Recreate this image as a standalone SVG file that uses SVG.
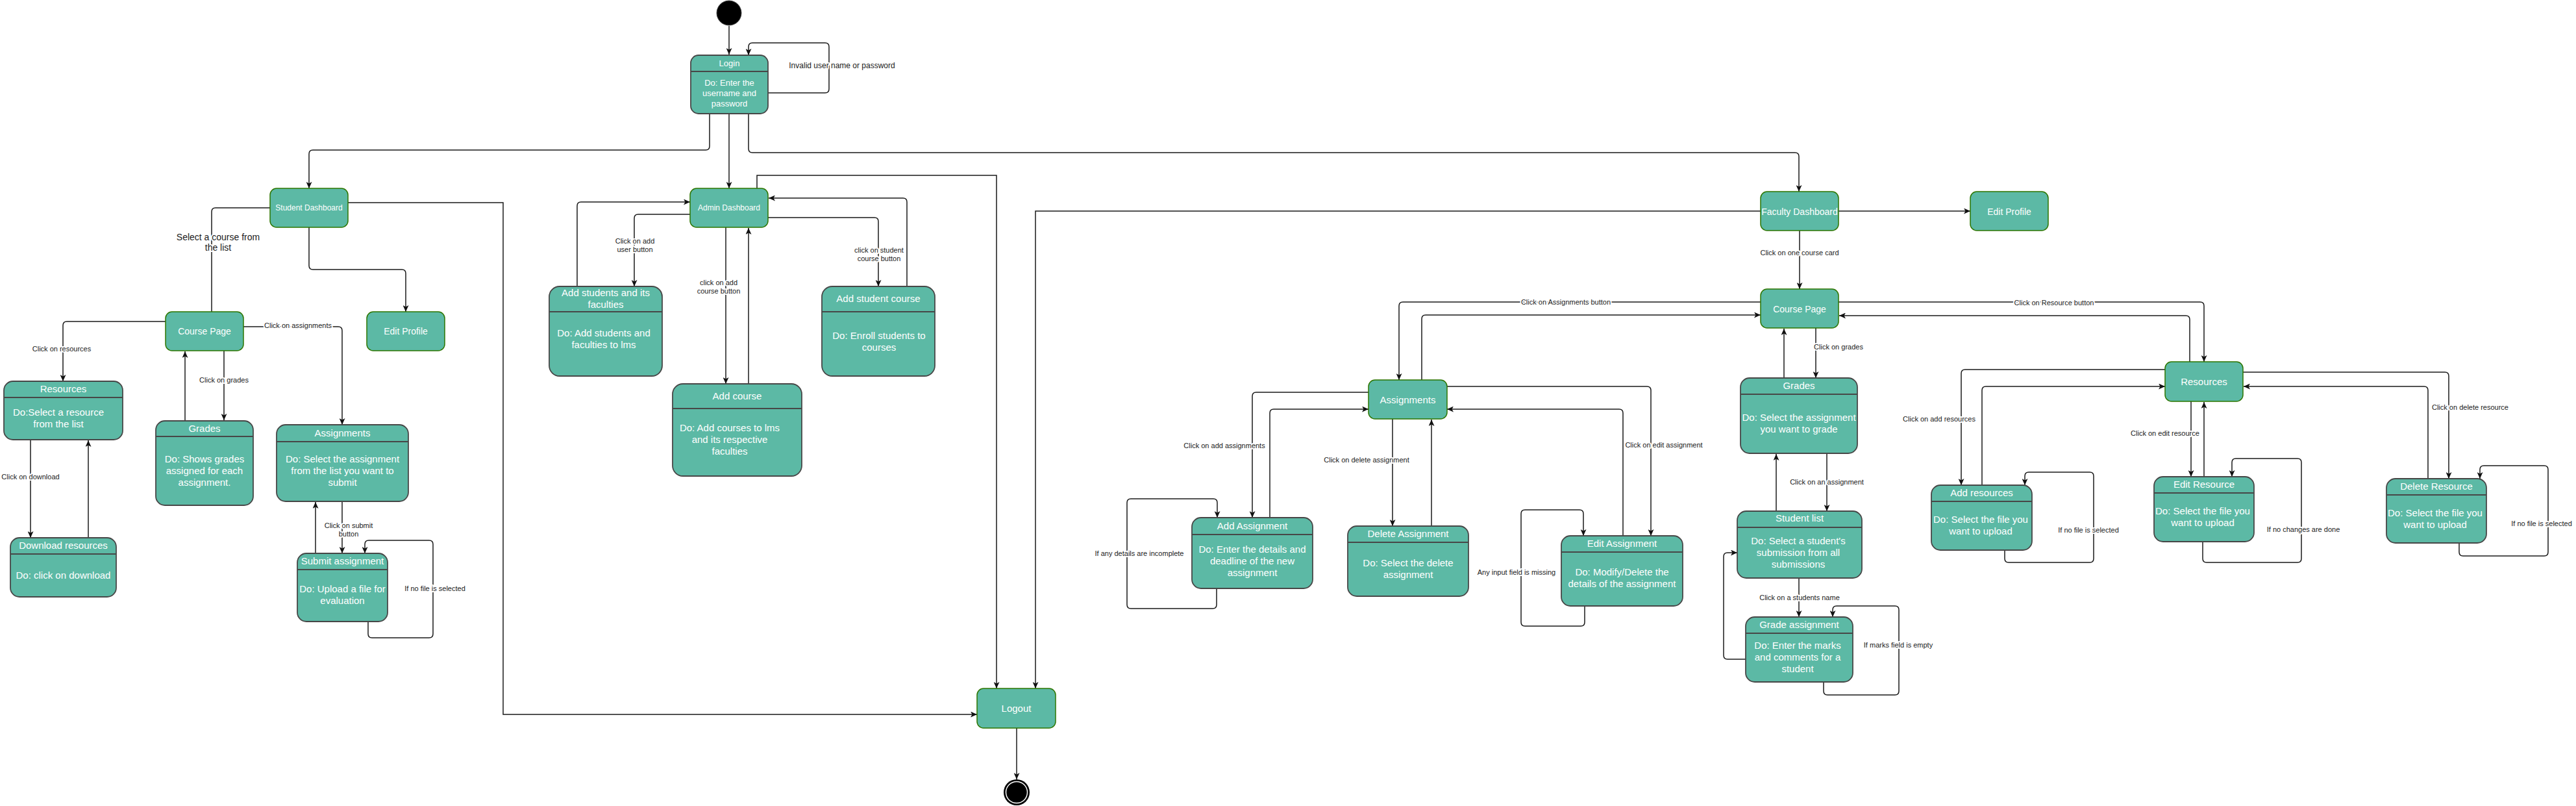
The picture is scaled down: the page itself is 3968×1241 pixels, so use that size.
<svg xmlns="http://www.w3.org/2000/svg" width="3968" height="1241" viewBox="0 0 3968 1241">
<defs>
<marker id="ar" markerUnits="userSpaceOnUse" markerWidth="11" markerHeight="9" refX="10" refY="4.5" orient="auto" viewBox="0 0 11 9">
<path d="M0,0 L10,4.5 L0,9 L2.5,4.5 Z" fill="#111"/>
</marker>
</defs>
<style>
.n{fill:#5CB9A5;stroke:#2D7600;stroke-width:1.5}
.c{fill:#5CB9A5;stroke:#474747;stroke-width:1.8}
.dv{stroke:#474747;stroke-width:1.8}
.t{font-family:"Liberation Sans",Arial,sans-serif;fill:#fff;text-anchor:middle;font-size:15px}
.e{fill:none;stroke:#1a1a1a;stroke-width:1.5}
.a{marker-end:url(#ar)}
.l{font-family:"Liberation Sans",Arial,sans-serif;font-size:11px;fill:#1a1a1a;text-anchor:middle;paint-order:stroke;stroke:#fff;stroke-width:4px;stroke-linejoin:round}
</style>
<rect width="3968" height="1241" fill="#fff"/>
<g id="connectors">
<path class="e a" d="M1123,40 V84"/>
<path class="e a" d="M1183,143 H1271 Q1277,143 1277,137 V72 Q1277,66 1271,66 H1159 Q1153,66 1153,72 V85"/>
<text class="l" x="1297" y="105" style="font-size:12px">Invalid user name or password</text>
<path class="e a" d="M1093,175 V225 Q1093,231 1087,231 H482 Q476,231 476,237 V290"/>
<path class="e a" d="M1123,175 V290"/>
<path class="e a" d="M1153,175 V229 Q1153,235 1159,235 H2765 Q2771,235 2771,241 V295"/>
<path class="e" d="M416,320 H332 Q326,320 326,326 V480"/>
<text class="l" x="336" y="370" style="font-size:14px">Select a course from<tspan x="336" y="386">the list</tspan></text>
<path class="e a" d="M476,350 V409 Q476,415 482,415 H619 Q625,415 625,421 V480"/>
<path class="e a" d="M536,312 H775 V1100 H1505"/>
<path class="e a" d="M255,495 H103 Q97,495 97,501 V587"/>
<text class="l" x="95" y="541">Click on resources</text>
<path class="e a" d="M375,503 H521 Q527,503 527,509 V654"/>
<text class="l" x="459" y="505">Click on assignments</text>
<path class="e a" d="M345,540 V647"/>
<text class="l" x="345" y="589">Click on grades</text>
<path class="e a" d="M285,648 V541"/>
<path class="e a" d="M47,677 V828"/>
<text class="l" x="47" y="738">Click on download</text>
<path class="e a" d="M136,828 V678"/>
<path class="e a" d="M527,772 V852"/>
<text class="l" x="537" y="813">Click on submit<tspan x="537" y="826">button</tspan></text>
<path class="e a" d="M486,852 V773"/>
<path class="e a" d="M567,957 V976 Q567,982 573,982 H661 Q667,982 667,976 V838 Q667,832 661,832 H568 Q562,832 562,838 V852"/>
<text class="l" x="670" y="910">If no file is selected</text>
<path class="e a" d="M1063,330 H983 Q977,330 977,336 V441"/>
<text class="l" x="978" y="375">Click on add<tspan x="978" y="388">user button</tspan></text>
<path class="e a" d="M889,441 V317 Q889,311 895,311 H1063"/>
<path class="e a" d="M1118,350 V591"/>
<text class="l" x="1107" y="439">click on add<tspan x="1107" y="452">course button</tspan></text>
<path class="e a" d="M1153,591 V351"/>
<path class="e a" d="M1183,335 H1347 Q1353,335 1353,341 V441"/>
<text class="l" x="1354" y="389">click on student<tspan x="1354" y="402">course button</tspan></text>
<path class="e a" d="M1397,441 V311 Q1397,305 1391,305 H1184"/>
<path class="e a" d="M1166,290 V270 H1535 V1060"/>
<path class="e a" d="M2712,325 H1595 V1060"/>
<path class="e a" d="M2832,325 H3035"/>
<path class="e a" d="M2772,355 V445"/>
<text class="l" x="2772" y="393">Click on one course card</text>
<path class="e a" d="M1566,1121 V1200"/>
<path class="e a" d="M2712,465 H2161 Q2155,465 2155,471 V585"/>
<text class="l" x="2412" y="469">Click on Assignments button</text>
<path class="e a" d="M2190,585 V491 Q2190,485 2196,485 H2712"/>
<path class="e a" d="M2832,465 H3389 Q3395,465 3395,471 V557"/>
<text class="l" x="3164" y="470">Click on Resource button</text>
<path class="e a" d="M3373,557 V492 Q3373,486 3367,486 H2833"/>
<path class="e a" d="M2797,505 V582"/>
<text class="l" x="2832" y="538">Click on grades</text>
<path class="e a" d="M2748,582 V506"/>
<path class="e a" d="M2814,698 V787"/>
<text class="l" x="2814" y="746">Click on an assignment</text>
<path class="e a" d="M2736,787 V699"/>
<path class="e a" d="M2771,890 V950"/>
<text class="l" x="2772" y="924">Click on a students name</text>
<path class="e a" d="M2689,1015 H2661 Q2655,1015 2655,1009 V857 Q2655,851 2661,851 H2676"/>
<path class="e a" d="M2809,1050 V1064 Q2809,1070 2815,1070 H2919 Q2925,1070 2925,1064 V939 Q2925,933 2919,933 H2829 Q2823,933 2823,939 V950"/>
<text class="l" x="2924" y="997">If marks field is empty</text>
<path class="e a" d="M2108,604 H1935 Q1929,604 1929,610 V797"/>
<text class="l" x="1886" y="690">Click on add assignments</text>
<path class="e a" d="M1956,797 V636 Q1956,630 1962,630 H2108"/>
<path class="e a" d="M2145,645 V810"/>
<text class="l" x="2105" y="712">Click on delete assignment</text>
<path class="e a" d="M2205,810 V646"/>
<path class="e a" d="M2229,595 H2537 Q2543,595 2543,601 V825"/>
<text class="l" x="2563" y="689">Click on edit assignment</text>
<path class="e a" d="M2500,825 V636 Q2500,630 2494,630 H2229"/>
<path class="e a" d="M1874,906 V931 Q1874,937 1868,937 H1742 Q1736,937 1736,931 V774 Q1736,768 1742,768 H1869 Q1875,768 1875,774 V797"/>
<text class="l" x="1755" y="856">If any details are incomplete</text>
<path class="e a" d="M2441,933 V958 Q2441,964 2435,964 H2349 Q2343,964 2343,958 V791 Q2343,785 2349,785 H2433 Q2439,785 2439,791 V825"/>
<text class="l" x="2336" y="885">Any input field is missing</text>
<path class="e a" d="M3335,569 H3027 Q3021,569 3021,575 V747"/>
<text class="l" x="2987" y="649">Click on add resources</text>
<path class="e a" d="M3053,747 V601 Q3053,595 3059,595 H3335"/>
<path class="e a" d="M3375,618 V734"/>
<text class="l" x="3335" y="671">Click on edit resource</text>
<path class="e a" d="M3395,734 V619"/>
<path class="e a" d="M3455,573 H3766 Q3772,573 3772,579 V737"/>
<text class="l" x="3805" y="631">Click on delete resource</text>
<path class="e a" d="M3740,737 V601 Q3740,595 3734,595 H3456"/>
<path class="e a" d="M3088,847 V860 Q3088,866 3094,866 H3219 Q3225,866 3225,860 V733 Q3225,727 3219,727 H3125 Q3119,727 3119,733 V747"/>
<text class="l" x="3217" y="820">If no file is selected</text>
<path class="e a" d="M3393,834 V860 Q3393,866 3399,866 H3539 Q3545,866 3545,860 V712 Q3545,706 3539,706 H3444 Q3438,706 3438,712 V734"/>
<text class="l" x="3548" y="819">If no changes are done</text>
<path class="e a" d="M3788,836 V850 Q3788,856 3794,856 H3919 Q3925,856 3925,850 V723 Q3925,717 3919,717 H3826 Q3820,717 3820,723 V737"/>
<text class="l" x="3915" y="810">If no file is selected</text>
</g>
<g id="nodes">
<g id="start"><circle cx="1123" cy="20" r="19" fill="#000" stroke="#444" stroke-width="1"/></g>
<g id="login"><rect class="c" x="1064" y="85" width="119" height="90" rx="12"/><line class="dv" x1="1064" y1="110" x2="1183" y2="110"/>
<text class="t" x="1123.5" y="102" style="font-size:13px">Login</text>
<text class="t" x="1123.5" y="131.5" style="font-size:13px">Do: Enter the<tspan x="1123.5" y="147.5">username and</tspan><tspan x="1123.5" y="163.5">password</tspan></text></g>
<g id="student-dashboard"><rect class="n" x="416" y="290" width="120" height="60" rx="10"/><text class="t" x="476" y="324" style="font-size:12px">Student Dashboard</text></g>
<g id="admin-dashboard"><rect class="n" x="1063" y="290" width="120" height="60" rx="10"/><text class="t" x="1123" y="324" style="font-size:12px">Admin Dashboard</text></g>
<g id="faculty-dashboard"><rect class="n" x="2712" y="295" width="120" height="60" rx="10"/><text class="t" x="2772" y="331" style="font-size:14px">Faculty Dashboard</text></g>
<g id="edit-profile-student"><rect class="n" x="565" y="480" width="120" height="60" rx="10"/><text class="t" x="625" y="515" style="font-size:14px">Edit Profile</text></g>
<g id="course-page-student"><rect class="n" x="255" y="480" width="120" height="60" rx="10"/><text class="t" x="315" y="515" style="font-size:14px">Course Page</text></g>
<g id="course-page-faculty"><rect class="n" x="2712" y="445" width="120" height="60" rx="10"/><text class="t" x="2772" y="481" style="font-size:14px">Course Page</text></g>
<g id="edit-profile-faculty"><rect class="n" x="3035" y="295" width="120" height="60" rx="10"/><text class="t" x="3095" y="331" style="font-size:14px">Edit Profile</text></g>
<g id="assignments-faculty"><rect class="n" x="2108" y="585" width="121" height="60" rx="10"/><text class="t" x="2168.5" y="620.5">Assignments</text></g>
<g id="resources-faculty"><rect class="n" x="3335" y="557" width="120" height="61" rx="10"/><text class="t" x="3395" y="593">Resources</text></g>
<g id="logout"><rect class="n" x="1505" y="1060" width="121" height="61" rx="10"/><text class="t" x="1565.5" y="1096">Logout</text></g>
<g id="end"><circle cx="1566" cy="1220" r="20" fill="#000"/><circle cx="1566" cy="1220" r="16.5" fill="#000" stroke="#fff" stroke-width="1.5"/></g>
<g id="resources-student"><rect class="c" x="6" y="587" width="183" height="90" rx="14"/><line class="dv" x1="6" y1="612" x2="189" y2="612"/>
<text class="t" x="97.5" y="604">Resources</text>
<text class="t" x="90" y="640">Do:Select a resource<tspan x="90" y="658">from the list</tspan></text></g>
<g id="download-resources"><rect class="c" x="16" y="828" width="163" height="91" rx="14"/><line class="dv" x1="16" y1="853" x2="179" y2="853"/>
<text class="t" x="97.5" y="845">Download resources</text>
<text class="t" x="97.5" y="891">Do: click on download</text></g>
<g id="grades-student"><rect class="c" x="240" y="648" width="150" height="130" rx="14"/><line class="dv" x1="240" y1="672" x2="390" y2="672"/>
<text class="t" x="315" y="665">Grades</text>
<text class="t" x="315" y="712">Do: Shows grades<tspan x="315" y="730">assigned for each</tspan><tspan x="315" y="748">assignment.</tspan></text></g>
<g id="assignments-student"><rect class="c" x="426" y="654" width="203" height="118" rx="14"/><line class="dv" x1="426" y1="680" x2="629" y2="680"/>
<text class="t" x="527.5" y="672">Assignments</text>
<text class="t" x="527.5" y="712">Do: Select the assignment<tspan x="527.5" y="730">from the list you want to</tspan><tspan x="527.5" y="748">submit</tspan></text></g>
<g id="submit-assignment"><rect class="c" x="458" y="852" width="139" height="105" rx="14"/><line class="dv" x1="458" y1="877" x2="597" y2="877"/>
<text class="t" x="527.5" y="869">Submit assignment</text>
<text class="t" x="527.5" y="912">Do: Upload a file for<tspan x="527.5" y="930">evaluation</tspan></text></g>
<g id="add-students"><rect class="c" x="846" y="441" width="174" height="138" rx="16"/><line class="dv" x1="846" y1="480" x2="1020" y2="480"/>
<text class="t" x="933" y="456">Add students and its<tspan x="933" y="474">faculties</tspan></text>
<text class="t" x="930" y="518">Do: Add students and<tspan x="930" y="536">faculties to lms</tspan></text></g>
<g id="add-course"><rect class="c" x="1036" y="591" width="199" height="142" rx="16"/><line class="dv" x1="1036" y1="629" x2="1235" y2="629"/>
<text class="t" x="1135.5" y="615">Add course</text>
<text class="t" x="1124" y="664">Do: Add courses to lms<tspan x="1124" y="682">and its respective</tspan><tspan x="1124" y="700">faculties</tspan></text></g>
<g id="add-student-course"><rect class="c" x="1266" y="441" width="174" height="138" rx="16"/><line class="dv" x1="1266" y1="480" x2="1440" y2="480"/>
<text class="t" x="1353" y="465">Add student course</text>
<text class="t" x="1354" y="522">Do: Enroll students to<tspan x="1354" y="540">courses</tspan></text></g>
<g id="grades-faculty"><rect class="c" x="2681" y="582" width="180" height="116" rx="14"/><line class="dv" x1="2681" y1="607" x2="2861" y2="607"/>
<text class="t" x="2771" y="599">Grades</text>
<text class="t" x="2771" y="648">Do: Select the assignment<tspan x="2771" y="666">you want to grade</tspan></text></g>
<g id="student-list"><rect class="c" x="2676" y="787" width="192" height="103" rx="14"/><line class="dv" x1="2676" y1="812" x2="2868" y2="812"/>
<text class="t" x="2772" y="803">Student list</text>
<text class="t" x="2770" y="838">Do: Select a student's<tspan x="2770" y="856">submission from all</tspan><tspan x="2770" y="874">submissions</tspan></text></g>
<g id="grade-assignment"><rect class="c" x="2689" y="950" width="165" height="100" rx="14"/><line class="dv" x1="2689" y1="975" x2="2854" y2="975"/>
<text class="t" x="2771.5" y="967">Grade assignment</text>
<text class="t" x="2769" y="999">Do: Enter the marks<tspan x="2769" y="1017">and comments for a</tspan><tspan x="2769" y="1035">student</tspan></text></g>
<g id="add-assignment"><rect class="c" x="1836" y="797" width="186" height="109" rx="14"/><line class="dv" x1="1836" y1="823" x2="2022" y2="823"/>
<text class="t" x="1929" y="815">Add Assignment</text>
<text class="t" x="1929" y="851">Do: Enter the details and<tspan x="1929" y="869">deadline of the new</tspan><tspan x="1929" y="887">assignment</tspan></text></g>
<g id="delete-assignment"><rect class="c" x="2076" y="810" width="186" height="108" rx="14"/><line class="dv" x1="2076" y1="835" x2="2262" y2="835"/>
<text class="t" x="2169" y="827">Delete Assignment</text>
<text class="t" x="2169" y="872">Do: Select the delete<tspan x="2169" y="890">assignment</tspan></text></g>
<g id="edit-assignment"><rect class="c" x="2405" y="825" width="187" height="108" rx="14"/><line class="dv" x1="2405" y1="850" x2="2592" y2="850"/>
<text class="t" x="2498.5" y="842">Edit Assignment</text>
<text class="t" x="2498.5" y="886">Do: Modify/Delete the<tspan x="2498.5" y="904">details of the assignment</tspan></text></g>
<g id="add-resources"><rect class="c" x="2975" y="747" width="155" height="100" rx="14"/><line class="dv" x1="2975" y1="772" x2="3130" y2="772"/>
<text class="t" x="3052.5" y="764">Add resources</text>
<text class="t" x="3051" y="805">Do: Select the file you<tspan x="3051" y="823">want to upload</tspan></text></g>
<g id="edit-resource"><rect class="c" x="3318" y="734" width="154" height="100" rx="14"/><line class="dv" x1="3318" y1="759" x2="3472" y2="759"/>
<text class="t" x="3395" y="751">Edit Resource</text>
<text class="t" x="3393" y="792">Do: Select the file you<tspan x="3393" y="810">want to upload</tspan></text></g>
<g id="delete-resource"><rect class="c" x="3676" y="737" width="154" height="99" rx="14"/><line class="dv" x1="3676" y1="762" x2="3830" y2="762"/>
<text class="t" x="3753" y="754">Delete Resource</text>
<text class="t" x="3751" y="795">Do: Select the file you<tspan x="3751" y="813">want to upload</tspan></text></g>
</g>
</svg>
